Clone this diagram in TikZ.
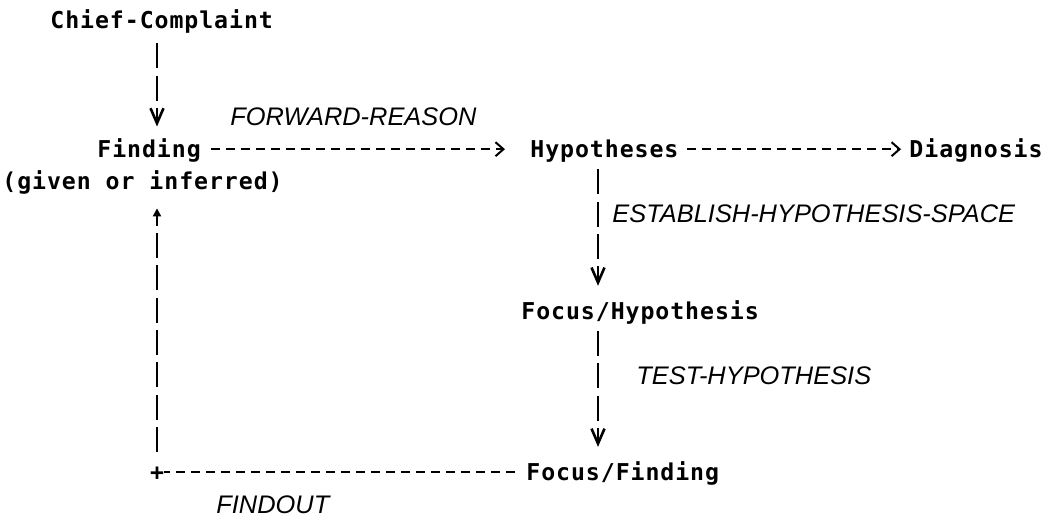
\documentclass[tikz,border=0pt]{standalone}
\usepackage{fontspec}
\usepackage{tikz}
\usetikzlibrary{arrows.meta}
\newfontfamily\termfont[LetterSpace=4.0]{DejaVu Sans Mono}
\newfontfamily\opfont{Liberation Sans}
\tikzset{
  line cap=butt,
  term/.style={font={\termfont\bfseries\fontsize{11.6pt}{16.15pt}\selectfont}, inner sep=0pt, text height=8.5pt, text depth=0pt},
  opname/.style={font={\opfont\itshape\fontsize{12.7pt}{15pt}\selectfont}, inner sep=0pt, text height=9.1pt, text depth=0pt},
  vbar/.style={line width=1.4pt, dash pattern=on 12.5pt off 3.65pt},
  vlink/.style={vbar, -{Straight Barb[length=7.5pt,width=6.5pt,line width=1.3pt]}},
  hlink/.style={line width=1pt, dash pattern=on 4.5pt off 3pt},
  harrow/.style={hlink, -{Straight Barb[length=4pt,width=7pt,line width=1pt]}}
}
\begin{document}
\begin{tikzpicture}[x=0.5pt, y=-0.5pt]
\useasboundingbox (0,0) rectangle (1048,518);

% 항목
\node[term, anchor=west] (cc) at (50,20) {Chief-Complaint};
\node[term, anchor=west] (fin) at (97,149.2) {Finding};
\node[term, anchor=west] (note) at (2,181.5) {(given or inferred)};
\node[term, anchor=west] (hyp) at (530,149.2) {Hypotheses};
\node[term, anchor=east] (dia) at (1043,149.2) {Diagnosis};
\node[term, anchor=west] (fhyp) at (521,310.7) {Focus/Hypothesis};
\node[term, anchor=west] (ffin) at (526,472.2) {Focus/Finding};
\node[term] (corner) at (157,472.2) {+};
\coordinate (lx) at (157,0);
\coordinate (rx) at (598,0);

% 연산 이름
\node[opname, anchor=west] (fwd) at (230,116.9) {FORWARD-REASON};
\node[opname, anchor=west] (ehs) at (612,213.8) {ESTABLISH-HYPOTHESIS-SPACE};
\node[opname, anchor=west] (tst) at (636,375.3) {TEST-HYPOTHESIS};
\node[opname, anchor=west] (fdo) at (216,504.5) {FINDOUT};

% 화살표
\draw[vlink, shorten <=7.2pt, shorten >=6.9pt] (cc.south -| lx) -- (fin.north -| lx);
\draw[harrow, shorten <=5pt, shorten >=12.5pt] (fin.east) -- (hyp.west);
\draw[harrow, shorten <=4pt, shorten >=4pt] (hyp.east) -- (dia.west);
\draw[vlink, shorten <=5.7pt, shorten >=8pt] (hyp.south -| rx) -- (fhyp.north -| rx);
\draw[vlink, shorten <=5.7pt, shorten >=8.2pt] (fhyp.south -| rx) -- (ffin.north -| rx);

% 되돌아가는 선
\draw[hlink, shorten <=5.5pt] (ffin.west) -- (corner.east);
\draw[vbar, -{Triangle[length=4pt,width=4pt]}, shorten <=5.7pt, shorten >=9pt] (corner.north) -- (note.south -| lx);

\end{tikzpicture}
\end{document}
